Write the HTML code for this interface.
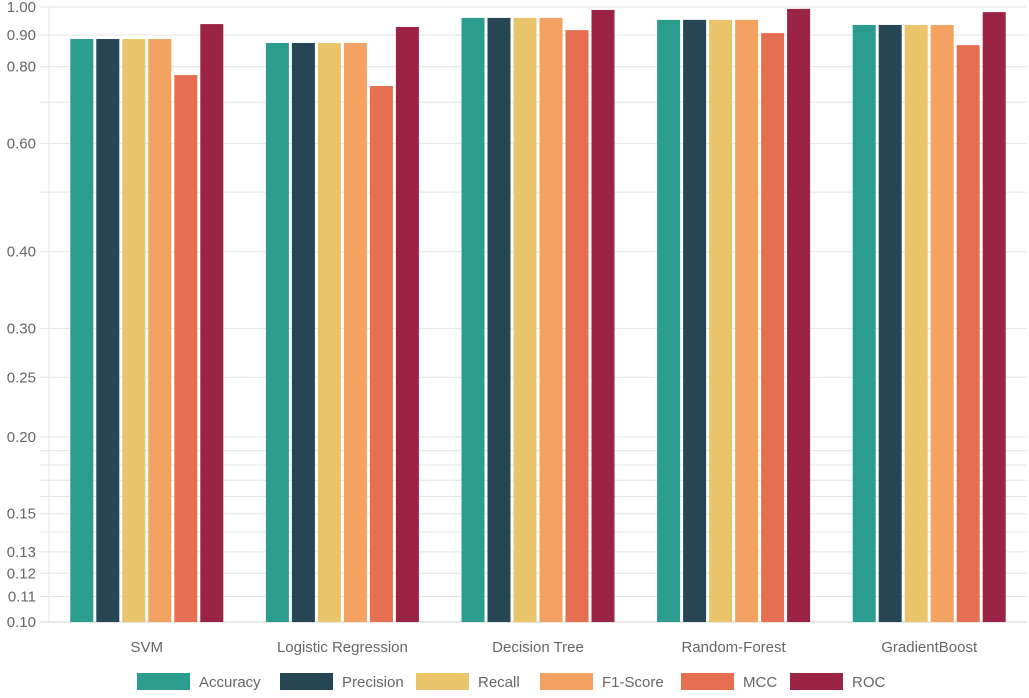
<!DOCTYPE html>
<html><head><meta charset="utf-8"><style>
body{margin:0;background:#fff;width:1029px;height:693px;overflow:hidden;font-family:"Liberation Sans",sans-serif}
text{font-family:"Liberation Sans",sans-serif;fill:#666}
</style></head><body>
<svg id="c" width="1029" height="693"></svg>
<script>
const categories=["SVM","Logistic Regression","Decision Tree","Random-Forest","GradientBoost"];
const seriesNames=["Accuracy","Precision","Recall","F1-Score","MCC","ROC"];
const accuracy=[0.887,0.874,0.960,0.953,0.935];
const precision=[0.887,0.874,0.960,0.953,0.935];
const recall=[0.887,0.874,0.960,0.953,0.935];
const f1score=[0.887,0.874,0.960,0.953,0.935];
const mcc=[0.775,0.744,0.917,0.907,0.867];
const roc=[0.938,0.928,0.989,0.993,0.981];
const tickLabels=[1.00,0.90,0.80,0.60,0.40,0.30,0.25,0.20,0.15,0.13,0.12,0.11,0.10];
const gridValues=[1,0.9,0.8,0.7,0.6,0.5,0.4,0.3,0.25,0.2,0.19,0.18,0.17,0.16,0.15,0.14,0.13,0.12,0.11,0.1];
const colors=["#2a9d8f","#264653","#e9c46a","#f4a261","#e76f51","#9b2345"];
const series=[accuracy,precision,recall,f1score,mcc,roc];
const svg=document.getElementById('c');const NS="http://www.w3.org/2000/svg";
function mk(t,a,p){const e=document.createElementNS(NS,t);for(const k in a)e.setAttribute(k,a[k]);(p||svg).appendChild(e);return e;}
const topY=7,botY=622,leftX=49,rightX=1027;
function y(v){return topY-(botY-topY)*Math.log10(v);}
const bandW=(rightX-leftX)/categories.length;
function xc(i){return leftX+bandW*(i+0.5);}
const grid=mk('g',{});
gridValues.forEach(v=>{const l=mk('line',{x1:40,x2:rightX,y1:y(v),y2:y(v),stroke:'#e6e6e6','stroke-width':1},grid);});
const ax=mk('line',{x1:leftX,x2:leftX,y1:topY,y2:botY,stroke:'#e6e6e6'});
const xl=mk('line',{x1:40,x2:rightX,y1:botY,y2:botY,stroke:'#d0d0d0'});
tickLabels.forEach(v=>{const t=mk('text',{x:36,y:y(v)+5,'text-anchor':'end','font-size':15});t.textContent=v.toFixed(2);});
const bw=23,step=26;
categories.forEach((c,i)=>{
 series.forEach((s,j)=>{const x=xc(i)-3*step+j*step+1.5;
  const r=mk('rect',{x:x,y:y(s[i]),width:bw,height:botY-y(s[i]),fill:colors[j]});
  
  });
 const t=mk('text',{x:xc(i),y:652,'text-anchor':'middle','font-size':15});t.textContent=c;
 
 
});
const lx=[137,280,416,540,681,790];
seriesNames.forEach((n,j)=>{const g=mk('g',{});
 
 
 mk('rect',{x:lx[j],y:673,width:53,height:17,fill:colors[j]},g);
 const t=mk('text',{x:lx[j]+62,y:687,'font-size':15},g);t.textContent=n;});
</script>
</body></html>
